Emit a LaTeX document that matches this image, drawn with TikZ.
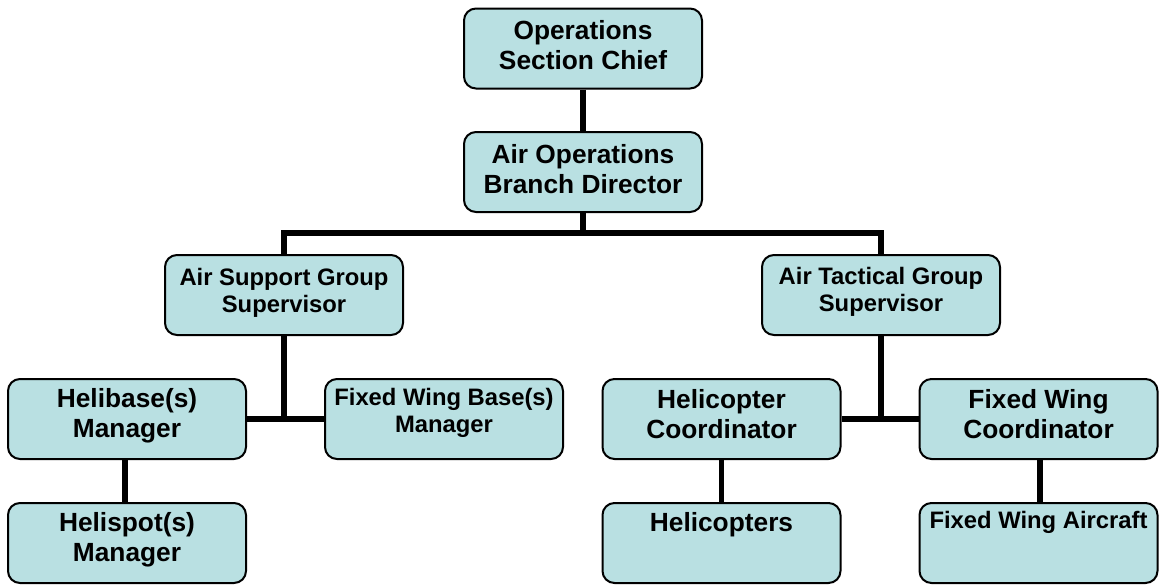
\documentclass[tikz,border=0pt]{standalone}
\usepackage{fontspec}
\setmainfont{Liberation Sans}
\definecolor{boxfill}{RGB}{185,224,226}
\begin{document}
\begin{tikzpicture}[x=1pt,y=1pt,
  box/.style={draw=black, line width=2pt, fill=boxfill, rounded corners=12pt,
    minimum width=238pt, minimum height=80pt, inner sep=0pt},
  big/.style={font=\fontsize{26.3}{30.2}\selectfont\bfseries, align=center, inner sep=0pt, anchor=north},
  small/.style={font=\fontsize{23.8}{27.4}\selectfont\bfseries, align=center, inner sep=0pt, anchor=north},
  conn/.style={line width=5.5pt}]
\useasboundingbox (0,0) rectangle (1159,-584);
% boxes
\node[box] (osc)  at (583,-48.5) {};
\node[box] (aobd) at (583,-172) {};
\node[box] (asgs) at (284,-295) {};
\node[box] (atgs) at (881,-295) {};
\node[box] (hbm)  at (127,-419) {};
\node[box] (fwbm) at (444,-419) {};
\node[box] (hcc)  at (721.5,-419) {};
\node[box] (fwc)  at (1038.5,-419) {};
\node[box] (hsm)  at (127,-543) {};
\node[box] (heli) at (721.5,-543) {};
\node[box] (fwa)  at (1038.5,-543) {};
\coordinate (bus) at (583,-233);
% connectors
\draw[conn] (osc.south) -- (aobd.north);
\draw[conn] (aobd.south) -- (bus);
\draw[conn] (asgs.north) |- (bus) -| (atgs.north);
\draw[conn] (asgs.south) -- (asgs.south |- hbm.east);
\draw[conn] (hbm.east) -- (fwbm.west);
\draw[conn] (atgs.south) -- (atgs.south |- hcc.east);
\draw[conn] (hcc.east) -- (fwc.west);
\draw[conn] ([xshift=-2pt]hbm.south) -- ([xshift=-2pt]hsm.north);
\draw[conn] (hcc.south) -- (heli.north);
\draw[conn] ([xshift=1.5pt]fwc.south) -- ([xshift=1.5pt]fwa.north);
% texts
\node[big]   (osc-t)  at ([yshift=-13pt]osc.north)  {Operations\\Section Chief};
\node[big]   (aobd-t) at ([yshift=-13pt]aobd.north) {Air Operations\\Branch Director};
\node[small] (asgs-t) at ([yshift=-14pt]asgs.north) {Air Support Group\\Supervisor};
\node[small] (atgs-t) at ([yshift=-13pt]atgs.north) {Air Tactical Group\\Supervisor};
\node[big]   (hbm-t)  at ([yshift=-10pt]hbm.north)  {Helibase(s)\\Manager};
\node[small] (fwbm-t) at ([yshift=-10pt]fwbm.north) {Fixed Wing Base(s)\\Manager};
\node[big]   (hcc-t)  at ([yshift=-11pt]hcc.north)  {Helicopter\\Coordinator};
\node[big]   (fwc-t)  at ([yshift=-11pt]fwc.north)  {Fixed Wing\\Coordinator};
\node[big]   (hsm-t)  at ([yshift=-10pt]hsm.north)  {Helispot(s)\\Manager};
\node[big]   (heli-t) at ([yshift=-10pt]heli.north) {Helicopters};
\node[small] (fwa-t)  at ([yshift=-9pt]fwa.north)   {Fixed Wing Aircraft};
\end{tikzpicture}
\end{document}
